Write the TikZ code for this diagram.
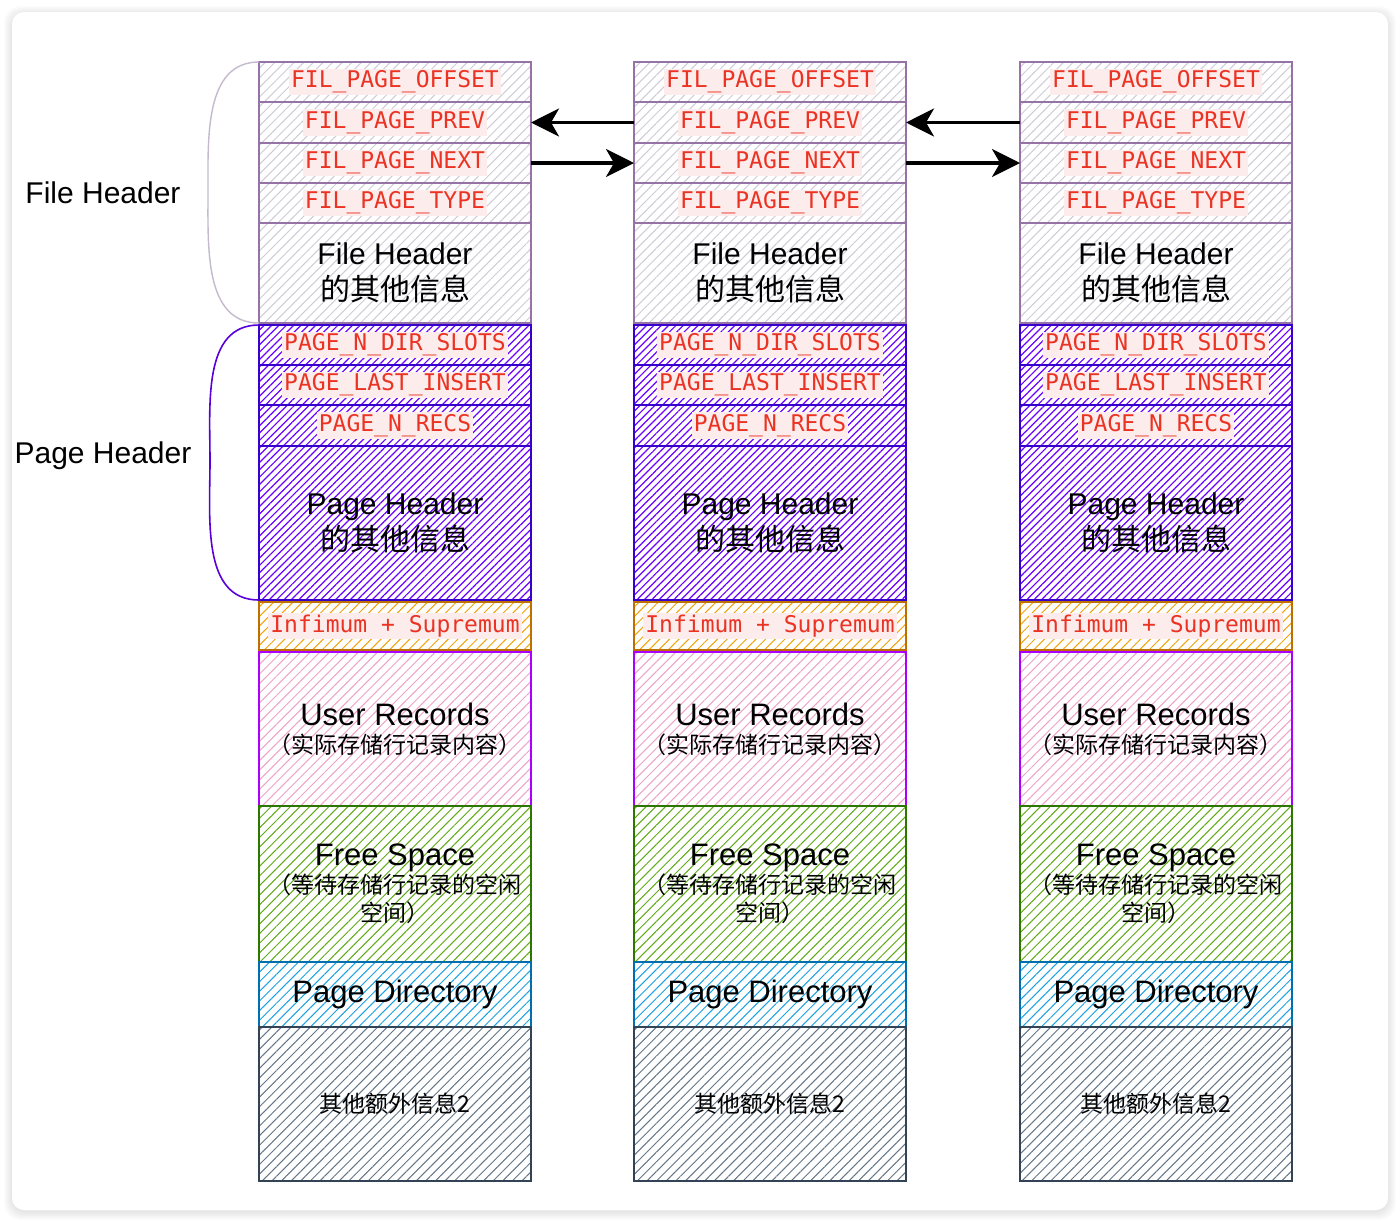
\documentclass[tikz,border=0pt]{standalone}
\usepackage{fontspec}
\setmainfont{Liberation Sans}
\setmonofont{DejaVu Sans Mono}
\newfontfamily\cjk{Noto Sans CJK SC}
\usetikzlibrary{positioning,patterns.meta,arrows.meta}

\definecolor{fhline}{HTML}{9673A6}
\definecolor{fhhatch}{HTML}{CFCCD8}
\definecolor{phline}{HTML}{3700CC}
\definecolor{phhatch}{HTML}{6A00FF}
\definecolor{infline}{HTML}{BD7000}
\definecolor{infhatch}{HTML}{F0A30A}
\definecolor{urline}{HTML}{AA00FF}
\definecolor{urhatch}{HTML}{EEA2C8}
\definecolor{fsline}{HTML}{2D7600}
\definecolor{fshatch}{HTML}{60A917}
\definecolor{pdline}{HTML}{006EAF}
\definecolor{pdhatch}{HTML}{1BA1E2}
\definecolor{exline}{HTML}{314354}
\definecolor{exhatch}{HTML}{647687}
\definecolor{fldred}{HTML}{EB3324}
\definecolor{fldbg}{HTML}{FCEDEC}

\newcommand\fld[1]{{\setlength{\fboxsep}{1pt}\colorbox{fldbg}{\ttfamily\color{fldred}#1}}}

\begin{document}
\begin{tikzpicture}[x=0.5pt,y=-0.5pt,
  every node/.style={font=\fontsize{11.5}{14}\selectfont},
  cell/.style={draw, line width=1pt, minimum width=136pt, inner sep=0pt, outer sep=0pt, align=center},
  hatch/.style={pattern={Lines[angle=45,distance=3.4pt,line width=0.5pt]}},
  fhcell/.style={cell, hatch, draw=fhline, pattern color=fhhatch},
  phcell/.style={cell, draw=phline, pattern={Lines[angle=45,distance=2.6pt,line width=0.6pt]}, pattern color=phhatch},
  infcell/.style={cell, hatch, draw=infline, pattern color=infhatch},
  urcell/.style={cell, hatch, draw=urline, pattern color=urhatch},
  fscell/.style={cell, hatch, draw=fsline, pattern color=fshatch},
  pdcell/.style={cell, hatch, draw=pdline, pattern color=pdhatch},
  excell/.style={cell, hatch, draw=exline, pattern color=exhatch},
  big/.style={font=\fontsize{15}{18}\selectfont},
  side/.style={font=\fontsize{15}{18}\selectfont},
  link/.style={line width=1.7pt, -{Stealth[length=14pt,width=14pt,inset=4pt]}},
]
\useasboundingbox (0,0) rectangle (1400,1222);
% card with soft shadow
\foreach \d in {1,...,8}
  \fill[black, opacity=0.012, rounded corners=8pt] (12-\d,12-\d+2) rectangle (1388+\d,1210+\d+2);
\fill[white, rounded corners=6pt] (12,12) rectangle (1388,1210);

\foreach \c/\x in {1/395,2/770,3/1156}{
  \node[fhcell, minimum height=20pt] (off\c) at (\x,82) {\fld{FIL\_PAGE\_OFFSET}};
  \node[fhcell, minimum height=20.5pt, below=0pt of off\c] (prev\c) {\fld{FIL\_PAGE\_PREV}};
  \node[fhcell, minimum height=20pt, below=0pt of prev\c] (next\c) {\fld{FIL\_PAGE\_NEXT}};
  \node[fhcell, minimum height=20pt, below=0pt of next\c] (type\c) {\fld{FIL\_PAGE\_TYPE}};
  \node[fhcell, big, minimum height=50pt, below=0pt of type\c] (fho\c) {File Header\\{\cjk 的其他信息}};
  \node[phcell, minimum height=20pt, below=1pt of fho\c] (dir\c) {\fld{PAGE\_N\_DIR\_SLOTS}};
  \node[phcell, minimum height=20pt, below=0pt of dir\c] (last\c) {\fld{PAGE\_LAST\_INSERT}};
  \node[phcell, minimum height=20.5pt, below=0pt of last\c] (recs\c) {\fld{PAGE\_N\_RECS}};
  \node[phcell, big, minimum height=77pt, below=0pt of recs\c] (pho\c) {Page Header\\{\cjk 的其他信息}};
  \node[infcell, minimum height=24pt, below=1pt of pho\c] (inf\c) {\fld{Infimum + Supremum}};
  \node[urcell, minimum height=77pt, below=1pt of inf\c] (user\c)
    {{\fontsize{15.5}{16}\selectfont User Records}\\{\cjk （实际存储行记录内容）}};
  \node[fscell, minimum height=78pt, below=0pt of user\c] (free\c)
    {{\fontsize{15.5}{16}\selectfont Free Space}\\{\cjk （等待存储行记录的空闲}\\{\cjk 空间）}};
  \node[pdcell, minimum height=32.5pt, below=0pt of free\c] (pdir\c) {\fontsize{15.5}{18}\selectfont Page Directory};
  \node[excell, minimum height=77pt, below=0pt of pdir\c] (extra\c) {\cjk 其他额外信息2};
}

\draw[link] (prev2.west) -- (prev1.east);
\draw[link] (next1.east) -- (next2.west);
\draw[link] (prev3.west) -- (prev2.east);
\draw[link] (next2.east) -- (next3.west);

% brackets on the left
\draw[line width=0.7pt, draw=fhhatch!80!fhline] (off1.north west) to[out=180,in=90] (208,192) to[out=-90,in=180] (fho1.south west);
\draw[line width=0.8pt, draw=phhatch!85!black] (dir1.north west) to[out=180,in=90] (210,461) to[out=-90,in=180] (pho1.south west);
\node[side] (fhlabel) at (103,193) {File Header};
\node[side] (phlabel) at (103,456) {Page Header};
\end{tikzpicture}
\end{document}
